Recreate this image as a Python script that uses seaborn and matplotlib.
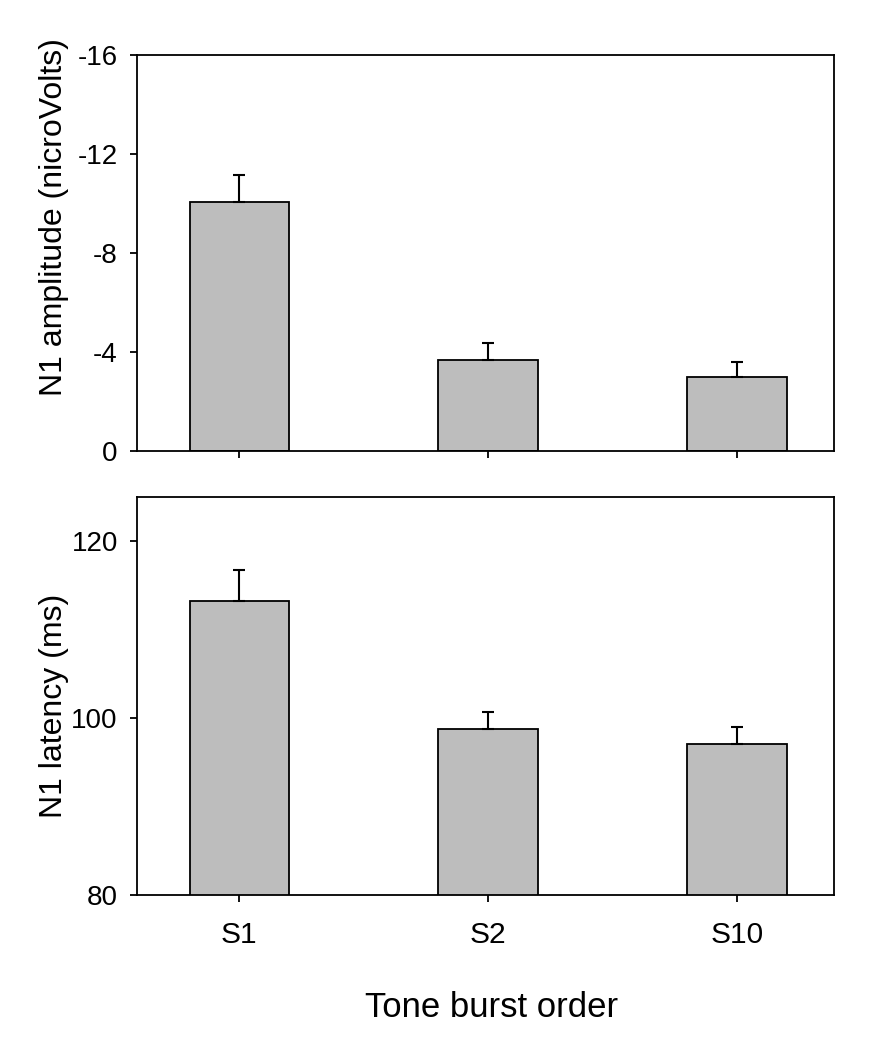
import matplotlib
matplotlib.use("Agg")
import matplotlib.pyplot as plt
import seaborn as sns
import pandas as pd

# data
orders = ["S1", "S2", "S10"]
amp_mean = [-10.05, -3.68, -2.98]   # microvolts (negative-going N1)
amp_err = [1.10, 0.70, 0.63]
lat_mean = [113.3, 98.8, 97.05]     # ms
lat_err = [3.5, 1.9, 1.95]

sns.set_style("white")
plt.rcParams["font.family"] = ["Liberation Sans", "DejaVu Sans"]
plt.rcParams["axes.unicode_minus"] = False
plt.rcParams["text.color"] = "black"
plt.rcParams["axes.labelcolor"] = "black"
plt.rcParams["xtick.color"] = "black"
plt.rcParams["ytick.color"] = "black"

df = pd.DataFrame({"order": orders, "amp": amp_mean, "amp_err": amp_err,
                   "lat": lat_mean, "lat_err": lat_err})

fig = plt.figure(figsize=(8.69, 10.5), dpi=100)
ax1 = fig.add_axes([0.158, 0.5705, 0.802, 0.377])
ax2 = fig.add_axes([0.158, 0.1476, 0.802, 0.379])

bar_kw = dict(color="#bdbdbd", saturation=1, edgecolor="black", linewidth=1.3,
              width=0.4, errorbar=None)

sns.barplot(data=df, x="order", y="amp", ax=ax1, **bar_kw)
sns.barplot(data=df, x="order", y="lat", ax=ax2, **bar_kw)

# one-sided error bars (away from zero)
xs = list(range(len(orders)))
ax1.errorbar(xs, df["amp"], yerr=[df["amp_err"], [0] * len(xs)], fmt="none",
             ecolor="black", elinewidth=1.5, capsize=4, capthick=1.5)
ax2.errorbar(xs, df["lat"], yerr=[[0] * len(xs), df["lat_err"]], fmt="none",
             ecolor="black", elinewidth=1.5, capsize=4, capthick=1.5)

ax1.set_ylim(0, -16)
ax1.set_yticks([0, -4, -8, -12, -16])
ax2.set_ylim(80, 125)
ax2.set_yticks([80, 100, 120])

for ax in (ax1, ax2):
    ax.set_xlim(-0.41, 2.39)
    for sp in ax.spines.values():
        sp.set_visible(True)
        sp.set_color("black")
        sp.set_linewidth(1.3)
    ax.tick_params(axis="both", direction="out", length=5, width=1.3,
                   color="black", labelcolor="black", left=True, bottom=True)
    ax.tick_params(axis="y", labelsize=20, pad=9)
    ax.set_xlabel("")

ax1.tick_params(axis="x", labelbottom=False)
ax2.tick_params(axis="x", labelsize=21.5, pad=14)

ax1.set_ylabel("N1 amplitude (nicroVolts)", fontsize=23)
ax1.yaxis.set_label_coords(-0.098, 0.59)
ax2.set_ylabel("N1 latency (ms)", fontsize=23)
ax2.yaxis.set_label_coords(-0.098, 0.475)

ax2.set_xlabel("Tone burst order", fontsize=25)
ax2.xaxis.set_label_coords(0.509, -0.24)

fig.savefig("out.png", dpi=100)
